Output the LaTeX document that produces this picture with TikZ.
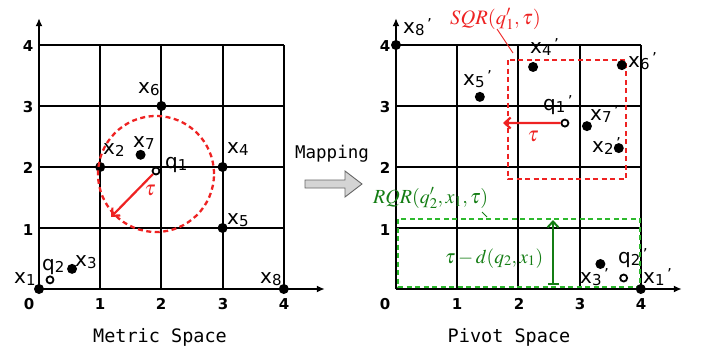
\documentclass[tikz,border=0pt]{standalone}
\usepackage{mathptmx}
\usepackage{fontspec}
\setmainfont{DejaVu Sans}
\newfontfamily\monof{DejaVu Sans Mono}
\usetikzlibrary{arrows.meta}
\definecolor{myred}{RGB}{238,34,34}
\definecolor{dkgreen}{RGB}{20,125,20}
\definecolor{ltgreen}{RGB}{45,185,45}
\definecolor{arrgray}{RGB}{212,212,212}
\newcommand\xl[2]{{\fontsize{20}{20}\selectfont #1}\raisebox{-2.5pt}{\fontsize{15}{15}\selectfont #2}}
\newcommand\xp[2]{\xl{#1}{#2}\raisebox{4pt}{\fontsize{15}{15}\selectfont\,’}}
\tikzset{
  gridline/.style={line width=2pt, black},
  axisline/.style={line width=2pt, black, -{Latex[length=8pt,width=7pt]}},
  dot/.style={circle, fill=black, inner sep=0pt, minimum size=10pt},
  odot/.style={circle, draw=black, fill=white, line width=1.8pt, inner sep=0pt, minimum size=7pt},
  lbl/.style={inner sep=0pt, anchor=base west},
  tick/.style={inner sep=0pt, font=\fontsize{15}{15}\selectfont\bfseries},
  caption/.style={inner sep=0pt, font=\fontsize{18.5}{18.5}\selectfont\monof},
  redarr/.style={myred, line width=2.2pt, -{Straight Barb[length=6pt,width=11pt]}},
  reddash/.style={myred, line width=2.3pt, dash pattern=on 5pt off 3.5pt},
  greendash/.style={ltgreen, line width=2.3pt, dash pattern=on 5pt off 3.5pt},
}
\begin{document}
\begin{tikzpicture}[x=1pt,y=-1pt]
\useasboundingbox (0,0) rectangle (702,356);
% ---------- left plot
\begin{scope}[shift={(39pt,-289pt)},x=61.2pt,y=61pt]
  \foreach \i in {1,...,4} {
    \draw[gridline] (\i,0) -- (\i,4);
    \draw[gridline] (0,\i) -- (4,\i);
  }
  \draw[axisline] (0,0) -- (0,4.44);
  \draw[axisline] (0,0) -- (4.67,0);
  \node[dot] (x1) at (0,0) {};
  \node[dot] (x8) at (4,0) {};
  \node[dot] (x5) at (3,1) {};
  \node[dot] (x4) at (3,2) {};
  \node[dot] (x2) at (1,2) {};
  \node[dot] (x6) at (2,3) {};
  \node[dot] (x7) at (1.66,2.2) {};
  \node[dot] (x3) at (0.54,0.33) {};
  \node[odot] (q2) at (0.18,0.15) {};
\end{scope}
\draw[reddash] (156,174) circle[radius=58pt];
\node[odot] (q1) at (156,171) {};
\coordinate (t1) at (111,217);
\draw[redarr] (q1) -- (t1);
\node[myred, inner sep=0pt, font=\fontsize{21}{21}\selectfont] (tau1) at (150,190) {$\tau$};
\node[lbl] (lx6) at (138,93) {\xl{x}{6}};
\node[lbl] (lx7) at (133,147) {\xl{x}{7}};
\node[lbl] (lx2) at (103,154) {\xl{x}{2}};
\node[lbl] (lq1) at (165,168) {\xl{q}{1}};
\node[lbl] (lx4) at (227,153) {\xl{x}{4}};
\node[lbl] (lx5) at (227,224) {\xl{x}{5}};
\node[lbl] (lx3) at (75,266) {\xl{x}{3}};
\node[lbl] (lq2) at (42,270) {\xl{q}{2}};
\node[lbl] (lx1) at (14,283) {\xl{x}{1}};
\node[lbl] (lx8) at (260,283) {\xl{x}{8}};
\node[tick] (ly4) at (28,46) {4};
\node[tick] (ly3) at (28,107) {3};
\node[tick] (ly2) at (28,168) {2};
\node[tick] (ly1) at (28,230) {1};
\node[tick] (l0) at (29,304) {0};
\node[tick] (lx1t) at (100,304) {1};
\node[tick] (lx2t) at (161,304) {2};
\node[tick] (lx3t) at (223,304) {3};
\node[tick] (lx4t) at (284,304) {4};
\node[caption] (cap1) at (160,337) {Metric Space};
% ---------- mapping arrow
\node[inner sep=0pt, font=\fontsize{17.5}{17.5}\selectfont\monof] (map) at (332,154) {Mapping};
\draw[fill=arrgray, draw=black!60, line width=0.9pt] (305,180) -- (345,180) -- (345,171) -- (362,184) -- (345,197) -- (345,188) -- (305,188) -- cycle;
% ---------- right plot
\begin{scope}[shift={(396pt,-289pt)},x=61.2pt,y=61pt]
  \foreach \i in {1,...,4} {
    \draw[gridline] (\i,0) -- (\i,4);
    \draw[gridline] (0,\i) -- (4,\i);
  }
  \draw[axisline] (0,0) -- (0,4.44);
  \draw[axisline] (0,0) -- (4.67,0);
\end{scope}
\draw[reddash] (508,60) rectangle (626,179);
\draw[greendash] (398,219) rectangle (640,287);
\begin{scope}[shift={(396pt,-289pt)},x=61.2pt,y=61pt]
  \node[dot] (x8p) at (0,4) {};
  \node[dot] (x5p) at (1.37,3.15) {};
  \node[dot] (x4p) at (2.24,3.64) {};
  \node[dot] (x6p) at (3.69,3.67) {};
  \node[dot] (x7p) at (3.12,2.67) {};
  \node[dot] (x2p) at (3.64,2.31) {};
  \node[dot] (x3p) at (3.34,0.41) {};
  \node[dot] (x1p) at (4,0) {};
  \node[odot] (q1p) at (2.76,2.72) {};
  \node[odot] (q2p) at (3.72,0.18) {};
\end{scope}
\coordinate (t2) at (503,123);
\draw[redarr] (q1p) -- (t2);
\node[myred, inner sep=0pt, font=\fontsize{21}{21}\selectfont] (tau2) at (533,136) {$\tau$};
\node[myred, lbl, font=\fontsize{20.5}{20.5}\selectfont] (sqr) at (450,24) {$SQR(q_1',\tau)$};
\coordinate (s1) at (497,29);
\coordinate (s2) at (513,53);
\draw[myred, line width=0.9pt] (s1) -- (s2);
\node[dkgreen, lbl, font=\fontsize{20}{20}\selectfont] (rqr) at (373,203) {$RQR(q_2',x_1,\tau)$};
\coordinate (r1) at (482,212);
\coordinate (r2) at (487,217);
\draw[dkgreen, line width=0.9pt] (r1) -- (r2);
\coordinate (g1) at (553,285);
\coordinate (g2) at (553,220);
\draw[dkgreen, line width=2pt, {Bar[width=11pt]}-{Straight Barb[length=6pt,width=11pt]}] (g1) -- (g2);
\node[dkgreen, lbl, font=\fontsize{19.5}{19.5}\selectfont] (dlab) at (445,263) {$\tau - d(q_2,x_1)$};
\node[lbl] (lx8p) at (403,33) {\xp{x}{8}};
\node[lbl] (lx5p) at (463,85) {\xp{x}{5}};
\node[lbl] (lx4p) at (530,53) {\xp{x}{4}};
\node[lbl] (lx6p) at (628,67) {\xp{x}{6}};
\node[lbl] (lq1p) at (543,110) {\xp{q}{1}};
\node[lbl] (lx7p) at (590,120) {\xp{x}{7}};
\node[lbl] (lx2p) at (592,152) {\xp{x}{2}};
\node[lbl] (lx3p) at (580,283) {\xp{x}{3}};
\node[lbl] (lq2p) at (618,263) {\xp{q}{2}};
\node[lbl] (lx1p) at (643,283) {\xp{x}{1}};
\node[tick] (ry4) at (385,46) {4};
\node[tick] (ry3) at (385,107) {3};
\node[tick] (ry2) at (385,168) {2};
\node[tick] (ry1) at (385,230) {1};
\node[tick] (r0) at (385,304) {0};
\node[tick] (rx1t) at (457,304) {1};
\node[tick] (rx2t) at (519,304) {2};
\node[tick] (rx3t) at (580,304) {3};
\node[tick] (rx4t) at (641,304) {4};
\node[caption] (cap2) at (509,337) {Pivot Space};
\end{tikzpicture}
\end{document}
